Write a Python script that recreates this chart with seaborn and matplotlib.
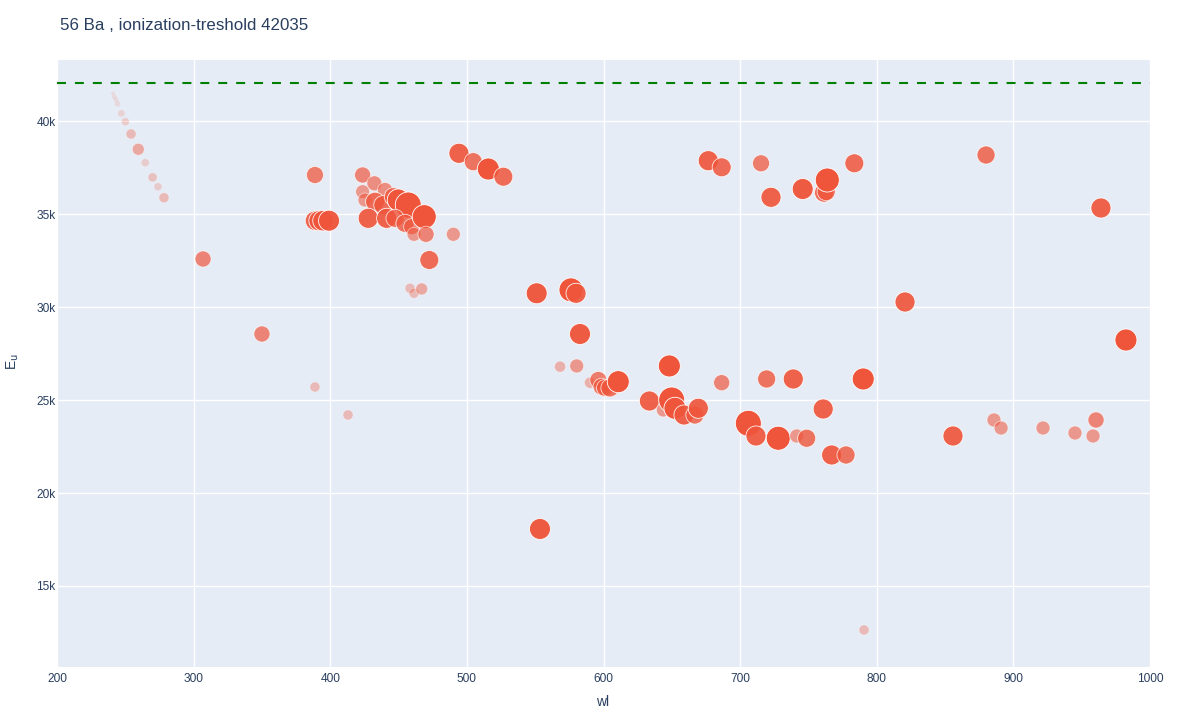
import numpy as np
import pandas as pd
import matplotlib
matplotlib.use('Agg')
import matplotlib.pyplot as plt
import seaborn as sns

# 56 Ba 스펙트럼 선: 파장(nm), 상위 준위 에너지(cm-1), 상대 세기(0-100)
wl = [241.0, 241.9, 243.2, 244.4, 247.1, 250.0, 254.2, 259.5, 264.6, 270.0, 273.9, 278.3,
      388.8, 388.8, 391.7, 394.7, 399.1, 306.9, 350.0, 388.8, 413.0,
      494.2, 504.7, 515.7, 526.7, 423.7, 432.3, 423.7, 440.1, 425.4, 432.8, 438.8,
      446.2, 449.8, 457.1, 427.8, 441.3, 447.4, 454.7, 459.6, 468.8, 461.3, 470.1,
      490.1, 472.5, 458.4, 461.3, 466.9, 551.1, 576.2, 579.9, 582.8, 553.5,
      568.2, 580.4, 590.1, 596.2, 598.6, 601.1, 604.7, 610.8, 648.2, 686.5, 633.6,
      643.8, 649.9, 652.3, 658.9, 666.9, 669.4,
      719.4, 738.9, 790.1, 760.8, 706.0, 711.6, 727.9, 741.4, 748.7, 767.0, 777.5,
      676.7, 686.5, 715.3, 722.6, 745.8, 761.4, 763.0, 763.8, 783.6,
      880.0, 964.1, 820.7, 982.4, 855.8, 885.8, 891.0, 921.7, 945.1, 960.5, 958.3, 790.7]
E_u = [41490, 41306, 41129, 40914, 40414, 39962, 39301, 38479, 37758, 36973, 36468, 35877,
       37097, 34640, 34640, 34640, 34640, 32581, 28549, 25700, 24195,
       38264, 37812, 37419, 37006, 37097, 36650, 36200, 36290, 35753, 35662, 35484,
       35930, 35753, 35484, 34769, 34769, 34769, 34500, 34318, 34855, 33909, 33909,
       33909, 32527, 31006, 30737, 30969, 30737, 30920, 30737, 28549, 18066,
       26792, 26830, 25931, 26077, 25716, 25650, 25650, 25984, 26830, 25931, 24947,
       24463, 25000, 24554, 24194, 24194, 24554,
       26130, 26130, 26130, 24517, 23746, 23065, 22944, 23065, 22944, 22044, 22044,
       37866, 37511, 37726, 35898, 36344, 36145, 36200, 36828, 37726,
       38172, 35323, 30269, 28226, 23065, 23925, 23495, 23495, 23226, 23925, 23065, 12636]
intensity = [0, 5, 5, 9, 14, 18, 27, 36, 18, 23, 18, 27,
             59, 70, 73, 75, 77, 55, 55, 27, 27,
             73, 64, 82, 68, 55, 50, 45, 50, 45, 68, 68,
             64, 82, 100, 73, 73, 64, 64, 55, 91, 45, 55,
             45, 68, 27, 27, 36, 77, 91, 73, 77, 77,
             32, 45, 32, 59, 59, 59, 64, 82, 82, 55, 73,
             45, 100, 82, 73, 64, 73,
             64, 73, 82, 73, 100, 73, 91, 45, 64, 73, 64,
             73, 68, 59, 73, 77, 68, 64, 91, 68,
             64, 73, 73, 82, 73, 45, 45, 45, 45, 55, 45, 27]

threshold = 42035
title = '56 Ba , ionization-treshold 42035'
x_ticks = [200, 300, 400, 500, 600, 700, 800, 900, 1000]
y_ticks = [15000, 20000, 25000, 30000, 35000, 40000]

df = pd.DataFrame({'wl': wl, 'E_u': E_u, 'intensity': intensity})

# 스타일
sns.set_theme(style='white')
plt.rcParams['font.family'] = ['Liberation Sans', 'DejaVu Sans']
font_color = '#2a3f5f'
marker_color = np.array(matplotlib.colors.to_rgb('#EF553B'))

fig = plt.figure(figsize=(12, 7.2), dpi=100)
ax = fig.add_axes([57 / 1200, 1 - 667 / 720, (1150 - 57) / 1200, (667 - 60) / 720])
ax.set_facecolor('#E5ECF6')

# 세기 -> 지름(px) 선형, 면적(pt^2)으로 변환
levels = sorted(df['intensity'].unique())
size_map = {v: (0.72 * (4 + 22 * v / 100)) ** 2 for v in levels}

sns.scatterplot(data=df, x='wl', y='E_u', size='intensity', sizes=size_map,
                color='#EF553B', edgecolor='white', linewidth=0.6,
                legend=False, ax=ax, zorder=3)

# 세기에 따른 투명도 (테두리 포함)
alphas = np.clip(df['intensity'].to_numpy() / 100 * 1.25, 0.12, 1.0)
face = np.column_stack([np.tile(marker_color, (len(df), 1)), alphas])
edge = np.column_stack([np.ones((len(df), 3)), alphas])
pts = ax.collections[-1]
pts.set_facecolors(face)
pts.set_edgecolors(edge)

ax.axhline(threshold, color='green', linewidth=1.5, linestyle=(0, (4.3, 4.3)), zorder=4)

ax.set_xlim(200, 1000)
ax.set_ylim(10645, 43280)
ax.set_xticks(x_ticks)
ax.set_yticks(y_ticks)
ax.set_yticklabels([f'{v // 1000}k' for v in y_ticks])
ax.grid(True, color='white', linewidth=1.0)
ax.set_axisbelow(True)
for s in ax.spines.values():
    s.set_visible(False)
ax.tick_params(axis='both', length=0, labelsize=8.6, labelcolor=font_color)
ax.tick_params(axis='x', pad=4)
ax.tick_params(axis='y', pad=1)
ax.set_xlabel('')
ax.set_ylabel('')

fig.text(60 / 1200, 1 - 25 / 720, title, fontsize=12.2, color=font_color, va='center', ha='left')
fig.text(603 / 1200, 1 - 702 / 720, 'wl', fontsize=10, color=font_color, va='center', ha='center')
fig.text(13 / 1200, 1 - 362 / 720, r'E$_\mathrm{u}$', fontsize=10, color=font_color,
         va='center', ha='center', rotation=90)

plt.savefig('out.png', dpi=100)
